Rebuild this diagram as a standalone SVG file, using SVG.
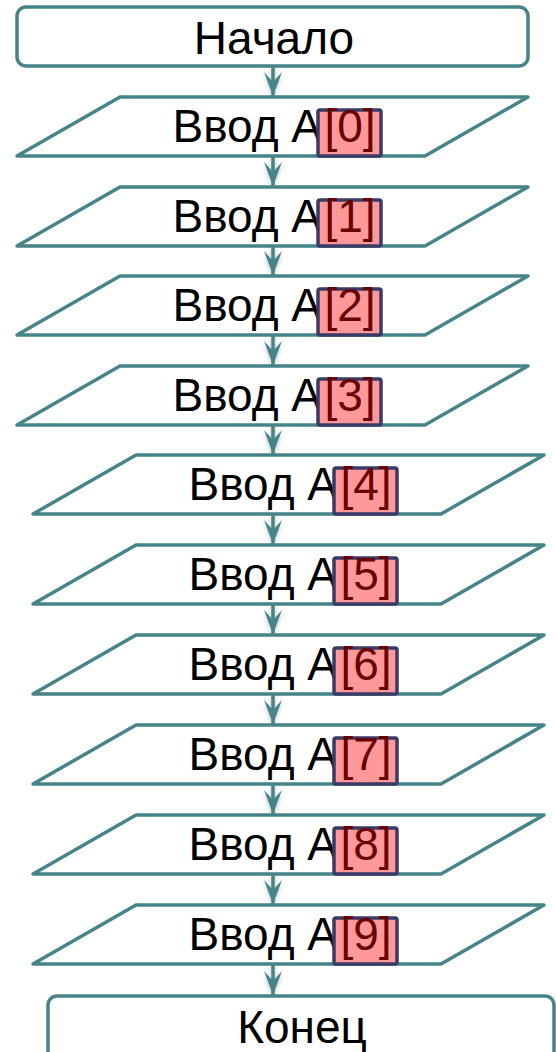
<svg xmlns="http://www.w3.org/2000/svg" width="556" height="1052" viewBox="0 0 556 1052">
<style>
.sh{fill:#fff;stroke:#468488;stroke-width:3.5;stroke-linejoin:round}
.t{font-family:"Liberation Sans",Arial,sans-serif;font-size:46px;fill:#000}
.c{text-anchor:middle}
.hb{fill:#ff9999;stroke:#3a3a66;stroke-width:3.5}
.ht{font-family:"Liberation Sans",Arial,sans-serif;font-size:46px;fill:#6a0000;text-anchor:middle}
.ln{stroke:#468488;stroke-width:3.5;fill:none;marker-end:url(#ah)}
</style>
<defs>
<marker id="ah" viewBox="-25 -10 26 20" refX="0" refY="0" markerWidth="26" markerHeight="20" markerUnits="userSpaceOnUse" orient="auto">
<path d="M0,0 L-24,-9 L-14,0 L-24,9 Z" fill="#468488"/>
</marker>
<filter id="sd" filterUnits="userSpaceOnUse" x="0" y="0" width="556" height="1052">
<feDropShadow dx="0" dy="2" stdDeviation="2" flood-color="#000" flood-opacity="0.25"/>
</filter>
</defs>
<g id="connectors" filter="url(#sd)">
<line class="ln" x1="273" y1="66" x2="273" y2="96"/>
<line class="ln" x1="273" y1="156" x2="273" y2="186"/>
<line class="ln" x1="273" y1="246" x2="273" y2="275"/>
<line class="ln" x1="273" y1="335" x2="273" y2="365"/>
<line class="ln" x1="273" y1="425" x2="273" y2="454"/>
<line class="ln" x1="273" y1="514" x2="273" y2="544"/>
<line class="ln" x1="273" y1="604" x2="273" y2="634"/>
<line class="ln" x1="273" y1="694" x2="273" y2="724"/>
<line class="ln" x1="273" y1="784" x2="273" y2="814"/>
<line class="ln" x1="273" y1="874" x2="273" y2="904"/>
<line class="ln" x1="273" y1="964" x2="273" y2="995"/>
</g>
<g id="start">
<rect class="sh" x="17" y="7" width="511" height="59" rx="9"/>
<text class="t c" x="274" y="54">Начало</text>
</g>
<g id="in0">
<polygon class="sh" points="120,97 528,97 425,156 17,156"/>
<text class="t" x="172.5" y="142">Ввод A</text>
<rect class="hb" x="318" y="110" width="63" height="46" rx="2"/>
<text class="ht" x="350" y="142">[0]</text>
</g>
<g id="in1">
<polygon class="sh" points="120,187 528,187 425,246 17,246"/>
<text class="t" x="172.5" y="232">Ввод A</text>
<rect class="hb" x="318" y="200" width="63" height="46" rx="2"/>
<text class="ht" x="350" y="232">[1]</text>
</g>
<g id="in2">
<polygon class="sh" points="120,276 528,276 425,335 17,335"/>
<text class="t" x="172.5" y="321">Ввод A</text>
<rect class="hb" x="318" y="289" width="63" height="46" rx="2"/>
<text class="ht" x="350" y="321">[2]</text>
</g>
<g id="in3">
<polygon class="sh" points="120,366 528,366 425,425 17,425"/>
<text class="t" x="172.5" y="411">Ввод A</text>
<rect class="hb" x="318" y="379" width="63" height="46" rx="2"/>
<text class="ht" x="350" y="411">[3]</text>
</g>
<g id="in4">
<polygon class="sh" points="136,455 544,455 441,514 33,514"/>
<text class="t" x="188.5" y="500">Ввод A</text>
<rect class="hb" x="334" y="468" width="63" height="46" rx="2"/>
<text class="ht" x="366" y="500">[4]</text>
</g>
<g id="in5">
<polygon class="sh" points="136,545 544,545 441,604 33,604"/>
<text class="t" x="188.5" y="590">Ввод A</text>
<rect class="hb" x="334" y="558" width="63" height="46" rx="2"/>
<text class="ht" x="366" y="590">[5]</text>
</g>
<g id="in6">
<polygon class="sh" points="136,635 544,635 441,694 33,694"/>
<text class="t" x="188.5" y="680">Ввод A</text>
<rect class="hb" x="334" y="648" width="63" height="46" rx="2"/>
<text class="ht" x="366" y="680">[6]</text>
</g>
<g id="in7">
<polygon class="sh" points="136,725 544,725 441,784 33,784"/>
<text class="t" x="188.5" y="770">Ввод A</text>
<rect class="hb" x="334" y="738" width="63" height="46" rx="2"/>
<text class="ht" x="366" y="770">[7]</text>
</g>
<g id="in8">
<polygon class="sh" points="136,815 544,815 441,874 33,874"/>
<text class="t" x="188.5" y="860">Ввод A</text>
<rect class="hb" x="334" y="828" width="63" height="46" rx="2"/>
<text class="ht" x="366" y="860">[8]</text>
</g>
<g id="in9">
<polygon class="sh" points="136,905 544,905 441,964 33,964"/>
<text class="t" x="188.5" y="950">Ввод A</text>
<rect class="hb" x="334" y="918" width="63" height="46" rx="2"/>
<text class="ht" x="366" y="950">[9]</text>
</g>
<g id="end">
<rect class="sh" x="48" y="996" width="506" height="70" rx="9"/>
<text class="t c" x="302" y="1043">Конец</text>
</g>
</svg>
